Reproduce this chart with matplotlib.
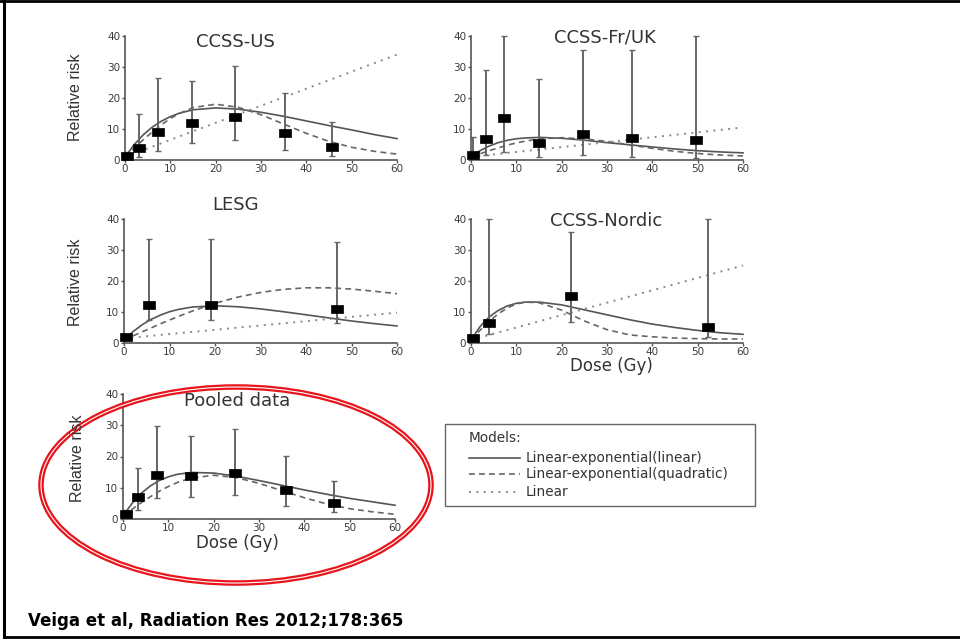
import matplotlib
matplotlib.use("Agg")
import matplotlib.pyplot as plt
from matplotlib.patches import Ellipse
from matplotlib.lines import Line2D

W, H = 960, 639

# ---------------- data ----------------
panel_titles = ["CCSS-US", "CCSS-Fr/UK", "LESG", "CCSS-Nordic", "Pooled data"]

# observed points: dose, relative risk, lower CI, upper CI
us_dose = [0.5, 3, 7.2, 14.7, 24.3, 35.4, 45.7]
us_rr = [1.2, 3.9, 8.9, 11.9, 14.0, 8.6, 4.2]
us_lo = [0.5, 1.0, 3.0, 5.5, 6.5, 3.2, 1.3]
us_hi = [2.5, 14.7, 26.3, 25.5, 30.3, 21.7, 12.3]

fr_dose = [0.4, 3.3, 7.3, 15.1, 24.6, 35.6, 49.7]
fr_rr = [1.6, 6.7, 13.7, 5.6, 8.3, 7.0, 6.5]
fr_lo = [0.8, 1.6, 2.7, 1.1, 1.6, 1.1, 0.5]
fr_hi = [7.5, 29.0, 40.0, 26.0, 35.5, 35.5, 40.0]

le_dose = [0.5, 5.6, 19.2, 46.8]
le_rr = [1.9, 12.4, 12.4, 10.9]
le_lo = [1.4, 7.3, 7.3, 6.3]
le_hi = [2.4, 33.4, 33.4, 32.7]

no_dose = [0.5, 4.0, 22.0, 52.3]
no_rr = [1.6, 6.6, 15.2, 5.1]
no_lo = [1.1, 3.0, 6.8, 1.9]
no_hi = [2.2, 40.0, 35.9, 40.0]

po_dose = [0.6, 3.3, 7.4, 15.1, 24.7, 35.9, 46.6]
po_rr = [1.7, 7.2, 14.1, 13.9, 14.7, 9.4, 5.1]
po_lo = [0.6, 3.0, 6.7, 7.2, 7.55, 4.3, 2.1]
po_hi = [3.0, 16.3, 29.9, 26.7, 28.8, 20.3, 12.2]

# fitted model curves
curve_dose = [0, 2, 4, 6, 8, 10, 12, 15, 20, 25, 30, 35, 40, 45, 50, 55, 60]

us_lexp_lin = [1.0, 4.9, 8.1, 10.6, 12.5, 14.0, 15.1, 16.2, 16.8, 16.4, 15.4, 14.1, 12.6, 11.1, 9.7, 8.2, 6.9]
us_lexp_quad = [1.0, 3.8, 6.5, 9.0, 11.3, 13.4, 15.0, 16.9, 18.0, 17.0, 14.6, 11.6, 8.6, 6.0, 4.1, 2.8, 1.9]
us_lin_dose = [0, 60]
us_lin = [1.0, 34.0]

fr_lexp_lin = [1.0, 3.0, 4.5, 5.6, 6.35, 6.85, 7.1, 7.3, 7.0, 6.4, 5.6, 4.9, 4.2, 3.55, 3.0, 2.6, 2.3]
fr_lexp_quad = [1.0, 2.0, 3.0, 3.9, 4.8, 5.5, 6.1, 6.8, 7.2, 6.8, 6.0, 4.9, 3.75, 2.8, 2.1, 1.6, 1.3]
fr_lin_dose = [0, 60]
fr_lin = [1.0, 10.5]

le_lexp_lin = [1.0, 3.7, 5.9, 7.65, 9.0, 10.1, 10.85, 11.6, 12.0, 11.7, 11.0, 10.1, 9.1, 8.1, 7.1, 6.25, 5.5]
le_lexp_quad = [1.0, 2.3, 3.6, 4.9, 6.2, 7.4, 8.6, 10.3, 12.8, 14.8, 16.3, 17.3, 17.8, 17.8, 17.4, 16.7, 15.9]
le_lin_dose = [0, 60]
le_lin = [1.5, 9.8]

no_lexp_lin = [1.0, 5.3, 8.4, 10.5, 11.95, 12.8, 13.2, 13.2, 12.3, 10.7, 9.1, 7.5, 6.1, 5.0, 4.05, 3.3, 2.8]
no_lexp_quad = [1.0, 4.1, 6.95, 9.4, 11.3, 12.6, 13.2, 13.0, 10.6, 7.1, 4.3, 2.6, 2.0, 1.6, 1.4, 1.3, 1.3]
no_lin_dose = [0, 60]
no_lin = [1.0, 25.0]

po_lexp_lin = [1.0, 5.0, 8.2, 10.55, 12.3, 13.5, 14.3, 14.9, 14.7, 13.7, 12.3, 10.8, 9.3, 7.9, 6.6, 5.5, 4.4]
po_lexp_quad = [1.0, 3.1, 5.2, 7.1, 8.9, 10.4, 11.7, 13.1, 14.0, 13.25, 11.4, 9.1, 6.8, 4.8, 3.3, 2.3, 1.5]

xticks = [0, 10, 20, 30, 40, 50, 60]
yticks = [0, 10, 20, 30, 40]

legend_title = "Models:"
legend_labels = ["Linear-exponential(linear)", "Linear-exponential(quadratic)", "Linear"]
caption = "Veiga et al, Radiation Res 2012;178:365"

# ---------------- styles ----------------
AX_COL = "#555555"
SOLID = dict(color="#555555", lw=1.2, ls="-")
DASHED = dict(color="#666666", lw=1.2, ls=(0, (3.5, 2.5)))
DOTTED = dict(color="#888888", lw=1.4, ls=(0, (1, 2.8)))
SQUARE = [(-1.4, -1.0), (1.4, -1.0), (1.4, 1.0), (-1.4, 1.0), (-1.4, -1.0)]

fig = plt.figure(figsize=(W / 100, H / 100), dpi=100)
fig.patch.set_facecolor("white")


def px_axes(x0, x1, ytop, ybot):
    return fig.add_axes([x0 / W, 1 - ybot / H, (x1 - x0) / W, (ybot - ytop) / H])


def ftext(x, y, s, **kw):
    fig.text(x / W, 1 - y / H, s, **kw)


def make_panel(rect, dose, rr, lo, hi, curves):
    ax = px_axes(*rect)
    ax.set_xlim(0, 60)
    ax.set_ylim(0, 40)
    ax.patch.set_alpha(0)
    for s in ["top", "right"]:
        ax.spines[s].set_visible(False)
    for s in ["left", "bottom"]:
        ax.spines[s].set_color(AX_COL)
        ax.spines[s].set_linewidth(1.2)
    ax.set_xticks(xticks)
    ax.set_yticks(yticks)
    ax.tick_params(direction="out", length=2.5, width=1, color=AX_COL,
                   labelsize=7.5, labelcolor="#3a3a3a", pad=1.0)
    ax.tick_params(axis="x", pad=0.5)
    for lab in ax.get_xticklabels() + ax.get_yticklabels():
        lab.set_fontfamily(["DejaVu Sans"])
    for cx, cy, st in curves:
        ax.plot(cx, cy, clip_on=False, **st)
    yerr = [[r - l for r, l in zip(rr, lo)], [h - r for r, h in zip(rr, hi)]]
    ax.errorbar(dose, rr, yerr=yerr, fmt="none", ecolor="#666666",
                elinewidth=1.4, capsize=2.0, capthick=1.0, clip_on=False)
    ax.plot(dose, rr, ls="none", marker=SQUARE, ms=8.5, mfc="black", mec="black",
            mew=0.5, clip_on=False, zorder=5)
    return ax


make_panel((125, 397, 36, 160), us_dose, us_rr, us_lo, us_hi,
           [(curve_dose, us_lexp_lin, SOLID), (curve_dose, us_lexp_quad, DASHED),
            (us_lin_dose, us_lin, DOTTED)])
make_panel((471, 743, 36, 160), fr_dose, fr_rr, fr_lo, fr_hi,
           [(curve_dose, fr_lexp_lin, SOLID), (curve_dose, fr_lexp_quad, DASHED),
            (fr_lin_dose, fr_lin, DOTTED)])
make_panel((124, 397, 219, 343), le_dose, le_rr, le_lo, le_hi,
           [(curve_dose, le_lexp_lin, SOLID), (curve_dose, le_lexp_quad, DASHED),
            (le_lin_dose, le_lin, DOTTED)])
make_panel((471, 743, 219, 343), no_dose, no_rr, no_lo, no_hi,
           [(curve_dose, no_lexp_lin, SOLID), (curve_dose, no_lexp_quad, DASHED),
            (no_lin_dose, no_lin, DOTTED)])
make_panel((123, 395, 394, 519), po_dose, po_rr, po_lo, po_hi,
           [(curve_dose, po_lexp_lin, SOLID), (curve_dose, po_lexp_quad, DASHED)])

# titles
TFONT = dict(family=["DejaVu Sans"], fontsize=13, color="#333333",
             ha="center", va="center")
ftext(235, 42, panel_titles[0], **TFONT)
ftext(605, 37, panel_titles[1], **TFONT)
ftext(236, 205, panel_titles[2], **TFONT)
ftext(606, 221, panel_titles[3], **TFONT)
ftext(237, 401, panel_titles[4], **TFONT)

# axis labels
YFONT = dict(family=["Liberation Sans Narrow", "Liberation Sans", "DejaVu Sans"],
             fontsize=11.5, color="#333333", rotation=90, ha="center", va="center")
ftext(75, 97, "Relative risk", **YFONT)
ftext(75, 282, "Relative risk", **YFONT)
ftext(77, 458, "Relative risk", **YFONT)
XFONT = dict(family=["DejaVu Sans"], fontsize=12, color="#333333",
             ha="center", va="center")
ftext(611, 366, "Dose (Gy)", **XFONT)
ftext(237, 543, "Dose (Gy)", **XFONT)

# legend box (drawn on an overlay axes in pixel coordinates)
ov = fig.add_axes([0, 0, 1, 1])
ov.set_xlim(0, W)
ov.set_ylim(H, 0)
ov.axis("off")
ov.patch.set_alpha(0)
ov.add_patch(plt.Rectangle((445, 424), 310, 82, fill=False, ec="#666666", lw=1.0))
LFONT = dict(family=["DejaVu Sans"], fontsize=9.8, color="#333333",
             va="center", ha="left")
ov.text(469, 438, legend_title, **LFONT)
for i, (lab, st) in enumerate(zip(legend_labels, [SOLID, DASHED, DOTTED])):
    yy = [458, 474, 492][i]
    ov.add_line(Line2D([469, 520], [yy, yy], **st))
    ov.text(526, yy, lab, **LFONT)

# red ellipse
ov.add_patch(Ellipse((236, 485), 390, 196, fill=False, ec="#e8141b", lw=4.0))
ov.add_patch(Ellipse((236, 485), 390, 196, fill=False, ec="white", lw=0.8))

# caption
ov.text(28, 621, caption, family=["DejaVu Sans"], fontweight="bold",
        fontsize=12, color="black", va="center", ha="left")

# slide border
ov.add_line(Line2D([0, W], [0.8, 0.8], color="black", lw=2))
ov.add_line(Line2D([4, 4], [0, H], color="black", lw=2.2))
ov.add_line(Line2D([4, W], [637, 637], color="black", lw=2))

fig.savefig("out.png", dpi=100, facecolor="white")
